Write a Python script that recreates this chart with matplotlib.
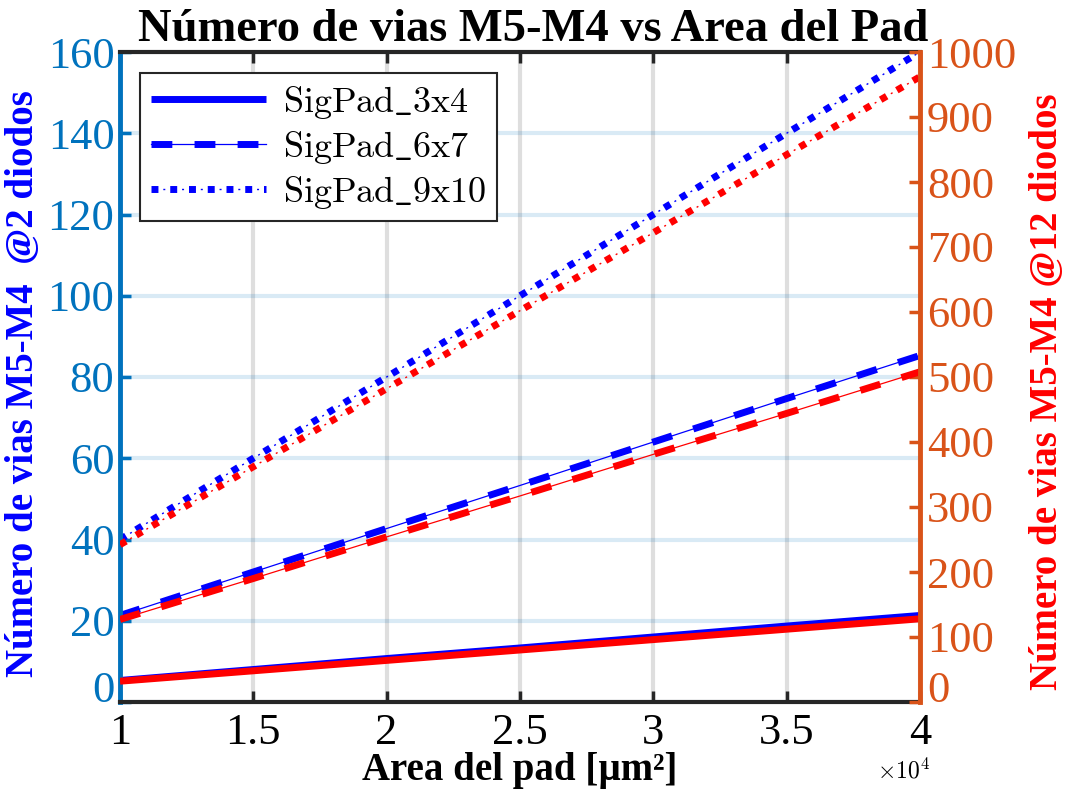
import matplotlib
matplotlib.use("Agg")
import matplotlib.pyplot as plt
from matplotlib.ticker import FuncFormatter

# area of the pad (um^2) and number of M5-M4 vias
area = [1.0e4, 1.5e4, 2.0e4, 2.5e4, 3.0e4, 3.5e4, 4.0e4]
pad_names = ["SigPad\\_3x4", "SigPad\\_6x7", "SigPad\\_9x10"]

vias2_3x4 = [5.3, 8.0, 10.7, 13.3, 16.0, 18.7, 21.3]
vias2_6x7 = [21.3, 32.0, 42.7, 53.3, 64.0, 74.7, 85.3]
vias2_9x10 = [40, 60, 80, 100, 120, 140, 160]

vias12_3x4 = [32, 48, 64, 80, 96, 112, 128]
vias12_6x7 = [127, 190, 254, 317, 381, 444, 508]
vias12_9x10 = [242, 362, 482, 602, 722, 842, 962]

xticks = [1e4, 1.5e4, 2e4, 2.5e4, 3e4, 3.5e4, 4e4]
left_ticks = [0, 20, 40, 60, 80, 100, 120, 140, 160]
right_ticks = [0, 100, 200, 300, 400, 500, 600, 700, 800, 900, 1000]

mblue = "#0072BD"
morange = "#D95319"
dark = "#262626"

plt.rcParams['font.family'] = ['Liberation Serif', 'DejaVu Serif']
plt.rcParams['mathtext.fontset'] = 'cm'

fig = plt.figure(figsize=(10.7, 7.89), dpi=100)
fig.subplots_adjust(left=120/1070, right=920/1070, top=1-52/789, bottom=1-702/789)
ax = fig.add_subplot(111)
ax2 = ax.twinx()

def draw(a, y, color):
    # each series is a thick styled line with a thin line on top, like the original render
    s, = a.plot(area, y[0], color=color, lw=5, solid_capstyle='butt')
    d, = a.plot(area, y[1], color=color, lw=5, dashes=(3.0, 3.2), dash_capstyle='butt')
    dt, = a.plot(area, y[2], color=color, lw=5, dashes=(1.0, 1.7), dash_capstyle='butt')
    d2, = a.plot(area, y[1], color=color, lw=0.9)
    dt2, = a.plot(area, y[2], color=color, lw=1, linestyle=(5.0, (1.44, 12.06)))
    return [(s,), (d, d2), (dt, dt2)]

handles = draw(ax, [vias2_3x4, vias2_6x7, vias2_9x10], "#0000FF")
draw(ax2, [vias12_3x4, vias12_6x7, vias12_9x10], "#FF0000")

ax.set_xlim(1e4, 4e4)
ax.set_ylim(0, 160)
ax2.set_ylim(0, 1000)
ax.set_xticks(xticks)
ax.set_yticks(left_ticks)
ax2.set_yticks(right_ticks)
ax.xaxis.set_major_formatter(FuncFormatter(lambda v, p: f"{v/1e4:g}"))

ax.set_axisbelow(True)
ax.xaxis.grid(True, color=dark, alpha=0.15, lw=3)
ax.yaxis.grid(True, color=mblue, alpha=0.15, lw=3)

ax.tick_params(axis='x', direction='in', top=True, length=8, width=2.5,
               labelsize=32, colors='black', pad=8)
ax.tick_params(axis='x', color=dark)
ax.tick_params(axis='y', direction='in', length=8, width=2.5, labelsize=32,
               colors=mblue, pad=4)
ax2.tick_params(axis='y', direction='in', length=8, width=2.5, labelsize=32,
                colors=morange, pad=5)

# the zero labels sit on the x axis line, as in the original
ax.get_yticklabels()[0].set_va('baseline')
ax2.get_yticklabels()[0].set_va('baseline')

for sp in ['top', 'bottom']:
    ax.spines[sp].set_color(dark)
    ax.spines[sp].set_linewidth(3)
ax.spines['left'].set_color(mblue)
ax.spines['left'].set_linewidth(3.5)
ax.spines['right'].set_visible(False)
for sp in ['top', 'bottom', 'left']:
    ax2.spines[sp].set_visible(False)
ax2.spines['right'].set_color(morange)
ax2.spines['right'].set_linewidth(3.5)

ax.set_title("Número de vias M5-M4 vs Area del Pad", fontsize=33.5,
             fontweight='bold', pad=8, x=0.517)
ax.set_xlabel("Area del pad [µm²]", fontsize=28, fontweight='bold', labelpad=-1)
ax.set_ylabel("Número de vias M5-M4  @2 diodos", fontsize=28, fontweight='bold',
              color="#0000FF", labelpad=4)
ax2.set_ylabel("Número de vias M5-M4 @12 diodos", fontsize=28, fontweight='bold',
               color="#FF0000", labelpad=9)
ax.yaxis.label.set_y(0.49)
ax2.yaxis.label.set_y(0.477)

fig.text(877/1070, 1-778/789, r"$\times10^{4}$", fontsize=17)

leg = ax2.legend(handles, [r"$\mathrm{%s}$" % n for n in pad_names],
                 loc='upper left', bbox_to_anchor=(0.025, 0.968), borderaxespad=0,
                 fontsize=26, handlelength=3.2, handletextpad=0.45,
                 labelspacing=0.22, fancybox=False, framealpha=1,
                 edgecolor=dark, borderpad=0.3)
leg.get_frame().set_linewidth(1.5)

fig.savefig("out.png", dpi=100)
